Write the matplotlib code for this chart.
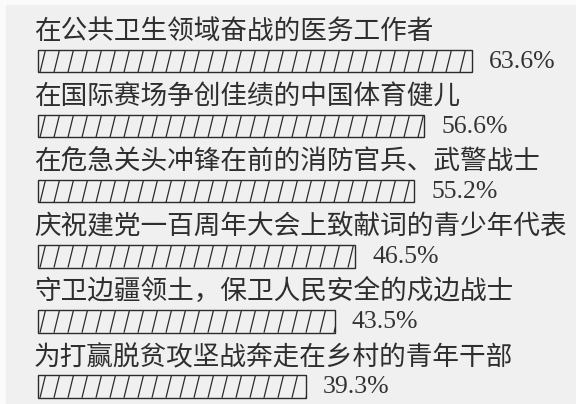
import numpy as np
import matplotlib
matplotlib.use("Agg")
import matplotlib.pyplot as plt
from matplotlib.patches import Rectangle
from matplotlib.collections import LineCollection

# ---- data ----
categories = [
    "在公共卫生领域奋战的医务工作者",
    "在国际赛场争创佳绩的中国体育健儿",
    "在危急关头冲锋在前的消防官兵、武警战士",
    "庆祝建党一百周年大会上致献词的青少年代表",
    "守卫边疆领土，保卫人民安全的戍边战士",
    "为打赢脱贫攻坚战奔走在乡村的青年干部",
]
values = [63.6, 56.6, 55.2, 46.5, 43.5, 39.3]
value_labels = ["63.6%", "56.6%", "55.2%", "46.5%", "43.5%", "39.3%"]

plt.rcParams['font.family'] = ['Noto Sans CJK SC', 'DejaVu Sans']

W, H, DPI = 576, 404, 100
bg = '#eff0ef'
ink = '#2b2b2b'
fig = plt.figure(figsize=(W / DPI, H / DPI), dpi=DPI, facecolor=bg)

# white photo margin at the top-left edges
fig.patches.append(Rectangle((0, 0), 6 / W, 1, transform=fig.transFigure,
                             facecolor='#fbfbfb', edgecolor='none', zorder=0))
fig.patches.append(Rectangle((0, 1 - 5 / H), 1, 5 / H, transform=fig.transFigure,
                             facecolor='#fbfbfb', edgecolor='none', zorder=0))

ax = fig.add_axes([0, 0, 1, 1])
ax.set_facecolor('none')

px_per_unit = 6.82
x0_px = 38
row_px = 65.1
first_row_px = 61
ax.set_xlim(-x0_px / px_per_unit, (W - x0_px) / px_per_unit)
ax.set_ylim((H - first_row_px) / row_px, -first_row_px / row_px)

bar_h = 22.5 / row_px
ypos = np.arange(len(categories))
bars = ax.barh(ypos, values, height=bar_h, left=0, facecolor='none',
               edgecolor=ink, linewidth=1.0, zorder=3)

# steep "/" hatching, clipped to every bar
step = 14.0 / px_per_unit      # spacing between slashes
lean = 5.5 / px_per_unit       # horizontal run of one slash over the bar height
for rect, yc, v in zip(bars.patches, ypos, values):
    starts = np.arange(2.0 / px_per_unit - step, v + step, step)
    segs = [[(s, yc + bar_h / 2), (s + lean, yc - bar_h / 2)] for s in starts]
    lc = LineCollection(segs, colors=ink, linewidths=0.9, zorder=2)
    ax.add_collection(lc)
    lc.set_clip_path(rect)

for i, (cat, v, lab) in enumerate(zip(categories, values, value_labels)):
    ax.text(-4 / px_per_unit, i - 29 / row_px, cat, fontsize=19.2,
            color='#2e2e2e', va='center', ha='left', fontweight='light')
    ax.text(v + 17 / px_per_unit, i + 1 / row_px, lab, fontsize=18.5,
            family='Liberation Serif', color='#333333', va='center', ha='left')

ax.axis('off')
fig.savefig('out.png', dpi=DPI, facecolor=bg)
